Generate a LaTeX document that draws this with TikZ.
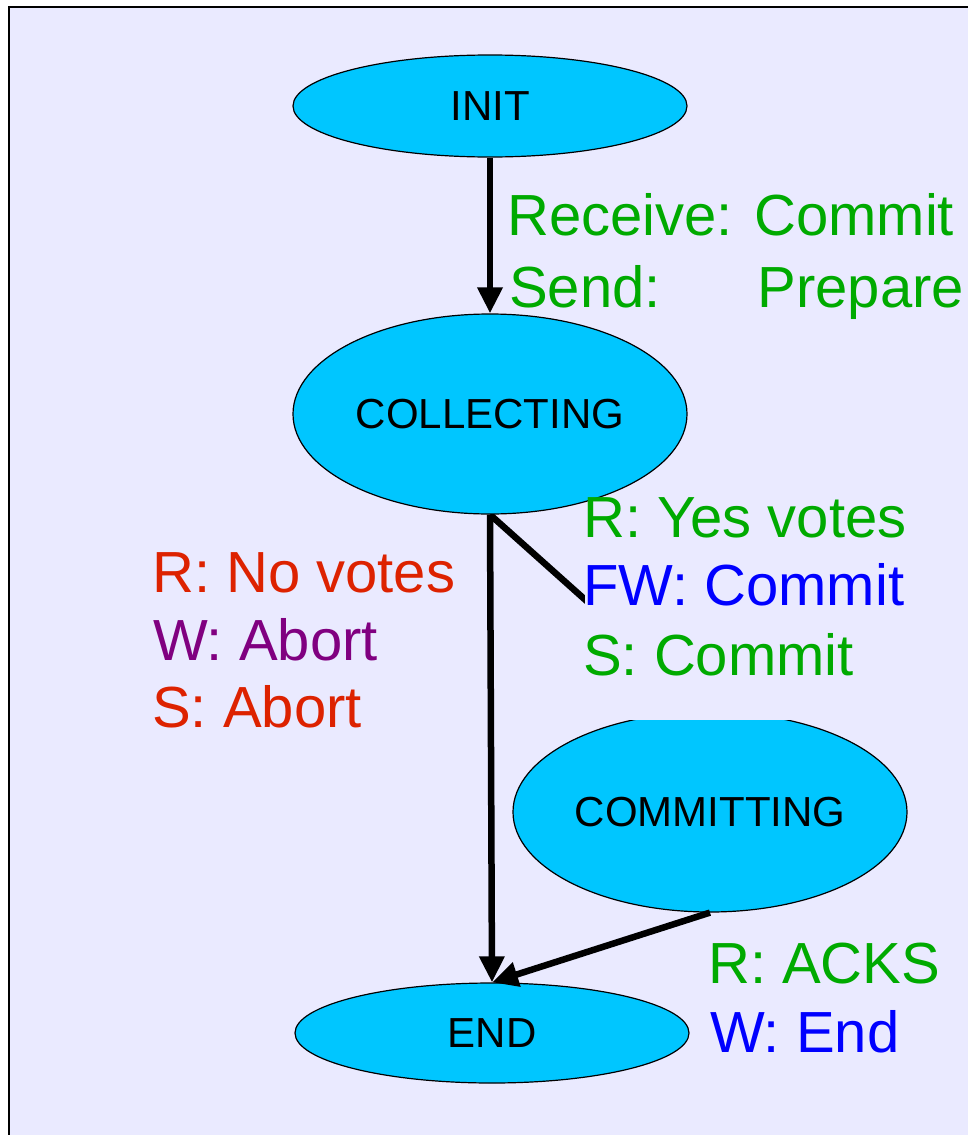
\documentclass[tikz,border=0pt]{standalone}
\usepackage{fontspec}
\setmainfont{Liberation Sans}
\usetikzlibrary{shapes.geometric,arrows.meta}
\definecolor{paper}{RGB}{234,234,255}
\definecolor{statefill}{RGB}{0,198,255}
\definecolor{lblgreen}{RGB}{0,170,0}
\definecolor{lblred}{RGB}{221,34,0}
\definecolor{lblpurple}{RGB}{128,0,128}
\definecolor{lblblue}{RGB}{0,0,255}
\pgfdeclarelayer{frame}
\pgfdeclarelayer{under}
\pgfsetlayers{frame,under,main}

\begin{document}
\begin{tikzpicture}[x=1pt,y=-1pt,
  state/.style={ellipse,draw=black,line width=1.2pt,fill=statefill,
    minimum width=394pt,inner sep=0pt,font=\fontsize{42}{50}\selectfont},
  lbl/.style={anchor=base west,inner sep=0pt,font=\fontsize{58}{69}\selectfont},
  flow/.style={line width=6.5pt,-{Triangle[length=26pt,width=24pt]}}]
\useasboundingbox (0,0) rectangle (968,1135);

% panel
\begin{pgfonlayer}{frame}
  \draw[line width=2pt,fill=paper] (8.5,6.5) rectangle (980,1150);
\end{pgfonlayer}

% states
\node[state,minimum height=102pt] (init) at (490,106) {INIT};
\node[state,minimum height=200pt] (coll) at (490,414) {COLLECTING};
\node[state,minimum height=100pt] (end)  at (492,1033) {END};

% the commit state and its incoming branch sit under the label block
\begin{pgfonlayer}{under}
  \node[state,minimum height=200pt] (comm) at (710,812) {COMMITTING};
  \draw[flow] (coll.south) -- (comm.north);
  \fill[paper] (585,506) rectangle (975,720);
\end{pgfonlayer}

% transitions
\draw[flow] (init.south) -- (coll.north);
\draw[flow] (coll.south) -- (end.north);
\draw[flow] (comm.south) -- (end.north);

% transition labels
\node[lbl,lblgreen]  (rcv)  at (507,235) {Receive: Commit};
\node[lbl,lblgreen]  (snd)  at (509,307) {Send:\hspace{97pt}Prepare};

\node[lbl,lblred]    (novt) at (152,592) {R: No votes};
\node[lbl,lblpurple] (wab)  at (153,660) {W: Abort};
\node[lbl,lblred]    (sab)  at (152,727) {S: Abort};

\node[lbl,lblgreen]  (yes)  at (583,537) {R: Yes votes};
\node[lbl,lblblue]   (fw)   at (583,605) {FW: Commit};
\node[lbl,lblgreen]  (scm)  at (583,675) {S: Commit};

\node[lbl,lblgreen]  (acks) at (708,983) {R: ACKS};
\node[lbl,lblblue]   (wend) at (710,1052) {W: End};
\end{tikzpicture}
\end{document}
